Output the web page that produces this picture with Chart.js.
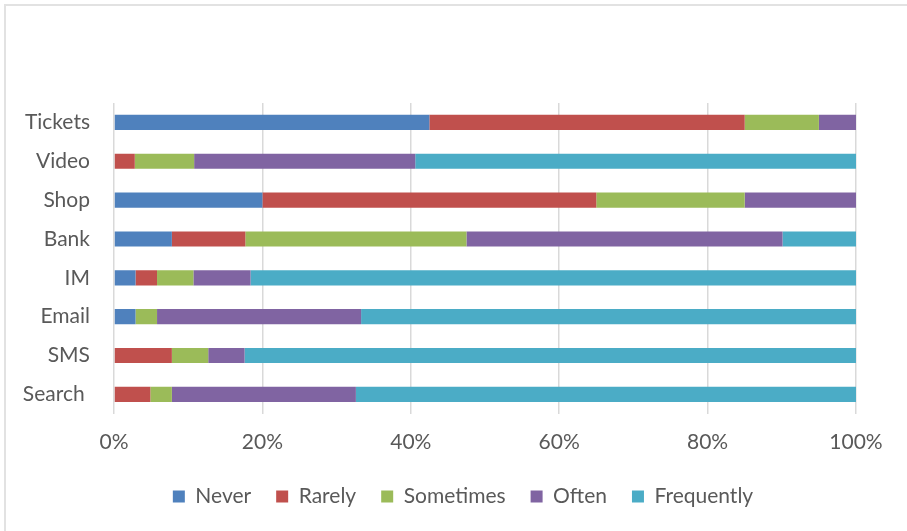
<!DOCTYPE html>
<html>
<head>
<meta charset="utf-8">
<script src="https://cdn.jsdelivr.net/npm/chart.js@4"></script>
<style>
	body { margin: 0; background: #fff; overflow: hidden; }
	#frame { position: absolute; left: 4px; top: 4px; width: 1000px; height: 1000px; border: 2px solid #e2e2e2; }
	#wrap { position: absolute; left: 0; top: 0; width: 907px; height: 531px; }
</style>
</head>
<body>
<div id="frame"></div>
<div id="wrap"><canvas id="myChart" width="907" height="531"></canvas></div>
<script>
// usage frequency per service, percent of respondents
const categories = ["Tickets", "Video", "Shop", "Bank", "IM", "Email", "SMS", "Search "];
const never = [42.5, 0, 20, 7.8, 2.9, 2.9, 0, 0];
const rarely = [42.5, 2.8, 45, 9.9, 2.9, 0, 7.8, 4.9];
const sometimes = [10, 8.0, 20, 29.8, 4.9, 2.9, 4.9, 2.9];
const often = [5, 29.8, 15, 42.6, 7.7, 27.5, 4.9, 24.8];
const frequently = [0, 59.4, 0, 9.9, 81.6, 66.7, 82.4, 67.4];
const tickValues = [0, 20, 40, 60, 80, 100];

const textColor = "#595959";
const font = { family: "Lato", size: 21 };

function series(label, data, color) {
	return {
		label: label,
		data: data,
		backgroundColor: color,
		borderWidth: 0,
		barPercentage: 0.39,
		categoryPercentage: 1,
	};
}

// move the legend a bit right and up after layout
const legendNudge = {
	id: "legendNudge",
	afterLayout: function (chart) {
		const lg = chart.legend;
		lg.left += 35;
		lg.right += 35;
		lg.top -= 10;
		lg.bottom -= 10;
	},
};

const ctx = document.getElementById("myChart").getContext("2d");
const myChart = new Chart(ctx, {
	type: "bar",
	data: {
		labels: categories,
		datasets: [
			series("Never", never, "#4f81bd"),
			series("Rarely", rarely, "#c0504d"),
			series("Sometimes", sometimes, "#9bbb59"),
			series("Often", often, "#8064a2"),
			series("Frequently", frequently, "#4bacc6"),
		],
	},
	plugins: [legendNudge],
	options: {
		indexAxis: "y",
		responsive: false,
		animation: false,
		layout: {
			padding: { top: 103, right: 51, bottom: 4, left: 0 },
		},
		plugins: {
			legend: {
				position: "bottom",
				labels: {
					boxWidth: 12,
					boxHeight: 12,
					padding: 25,
					color: textColor,
					font: font,
				},
			},
			tooltip: { enabled: false },
		},
		scales: {
			x: {
				stacked: true,
				min: 0,
				max: 100,
				afterBuildTicks: function (axis) {
					axis.ticks = tickValues.map(function (v) {
						return { value: v };
					});
				},
				grid: {
					color: "#d9d9d9",
					lineWidth: 1.5,
					drawTicks: false,
				},
				border: { display: false },
				ticks: {
					padding: 16,
					color: textColor,
					font: font,
					callback: function (v) {
						return v + "%";
					},
				},
			},
			y: {
				stacked: true,
				afterFit: function (axis) {
					axis.width = 114;
				},
				grid: { display: false, drawTicks: false },
				border: { display: false },
				ticks: {
					padding: 24,
					color: textColor,
					font: font,
				},
			},
		},
	},
});
</script>
</body>
</html>
